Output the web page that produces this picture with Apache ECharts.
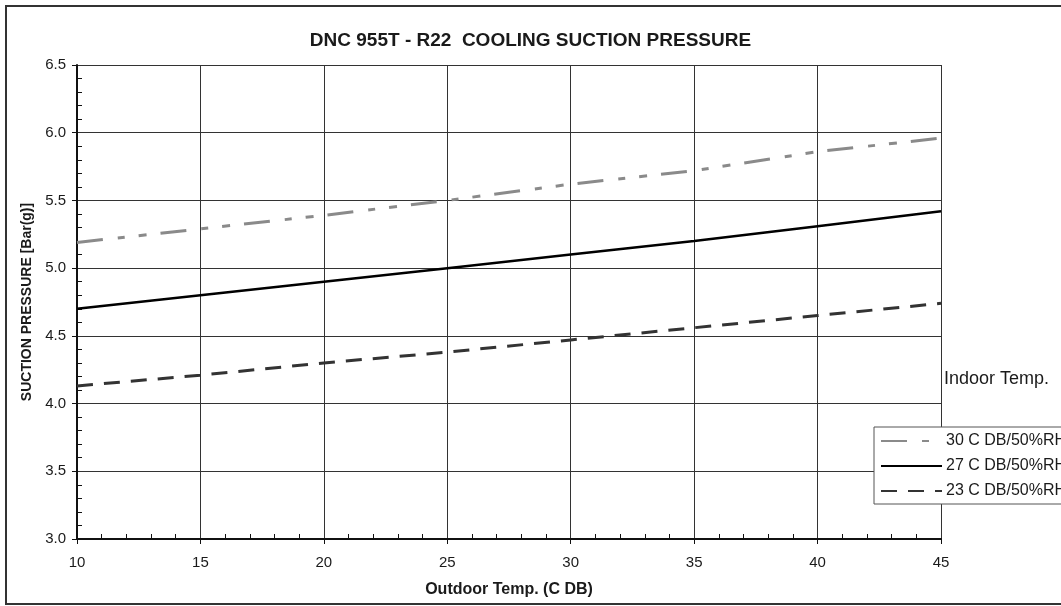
<!DOCTYPE html>
<html>
<head>
<meta charset="utf-8">
<script src="https://cdn.jsdelivr.net/npm/echarts@6/dist/echarts.min.js"></script>
<style>
  html, body { margin: 0; padding: 0; background: #fff; }
  #chart { width: 1061px; height: 606px; }
</style>
</head>
<body>
<div id="chart"></div>
<script>
// outdoor temp (C DB)
const outdoorTemps = [10, 15, 20, 25, 30, 35, 40, 45]
// suction pressure [Bar(g)] per indoor condition
const indoor30 = [5.19, 5.29, 5.39, 5.50, 5.62, 5.72, 5.86, 5.96]
const indoor27 = [4.70, 4.80, 4.90, 5.00, 5.10, 5.20, 5.31, 5.42]
const indoor23 = [4.13, 4.21, 4.30, 4.38, 4.47, 4.56, 4.65, 4.74]
const seriesNames = ['30 C DB/50%RH', '27 C DB/50%RH', '23 C DB/50%RH']

const FONT = '"Liberation Sans", Arial, sans-serif'
const TEXT = '#1a1a1a'
const X_MIN = 10
const X_MAX = 45
const Y_MIN = 3.0
const Y_MAX = 6.5

const toPairs = (ys) => outdoorTemps.map((x, i) => [x, ys[i]])

// second pair of axes only carries the inward minor ticks
const minorTickAxis = (extra) => ({
  type: 'value',
  ...extra,
  axisLine: { show: false },
  axisLabel: { show: false },
  splitLine: { show: false },
  axisTick: { show: false, inside: true },
  minorTick: { show: true, splitNumber: 5, length: 5, lineStyle: { color: '#111', width: 1 } },
})

const chart = echarts.init(document.getElementById('chart'))

chart.setOption({
  animation: false,
  backgroundColor: '#fff',
  textStyle: { fontFamily: FONT },
  title: {
    text: 'DNC 955T - R22  COOLING SUCTION PRESSURE',
    left: 'center',
    top: 26,
    textStyle: { fontFamily: FONT, fontSize: 19, fontWeight: 'bold', color: TEXT },
  },
  grid: { left: 77, right: 120, top: 65, bottom: 67 },
  legend: {
    orient: 'vertical',
    left: 874,
    top: 427,
    padding: [6, 30, 5, 6],
    itemWidth: 61,
    itemHeight: 14,
    itemGap: 9,
    backgroundColor: '#fff',
    borderColor: '#555',
    borderWidth: 1,
    borderRadius: 0,
    itemStyle: { opacity: 0 },
    data: seriesNames,
    textStyle: { fontFamily: FONT, fontSize: 16, color: TEXT, padding: [0, 0, 0, -1] },
  },
  xAxis: [
    {
      type: 'value',
      min: X_MIN,
      max: X_MAX,
      interval: 5,
      name: 'Outdoor Temp. (C DB)',
      nameLocation: 'middle',
      nameGap: 43,
      nameTextStyle: { fontFamily: FONT, fontSize: 16, fontWeight: 'bold', color: TEXT },
      axisLine: { show: true, onZero: false, lineStyle: { color: '#111', width: 2 } },
      axisTick: { show: true, length: 5, lineStyle: { color: '#111', width: 1 } },
      axisLabel: { fontFamily: FONT, fontSize: 15, color: TEXT, margin: 16 },
      splitLine: { show: true, lineStyle: { color: '#333', width: 1 } },
    },
    minorTickAxis({ position: 'bottom', min: X_MIN, max: X_MAX, interval: 5 }),
  ],
  yAxis: [
    {
      type: 'value',
      min: Y_MIN,
      max: Y_MAX,
      interval: 0.5,
      name: 'SUCTION PRESSURE [Bar(g)]',
      nameLocation: 'middle',
      nameGap: 37,
      nameTextStyle: { fontFamily: FONT, fontSize: 14, fontWeight: 'bold', color: TEXT },
      axisLine: { show: true, onZero: false, lineStyle: { color: '#111', width: 2 } },
      axisTick: { show: true, length: 5, lineStyle: { color: '#111', width: 1 } },
      axisLabel: {
        fontFamily: FONT,
        fontSize: 15,
        color: TEXT,
        margin: 11,
        formatter: (v) => v.toFixed(1),
      },
      splitLine: { show: true, lineStyle: { color: '#333', width: 1 } },
    },
    minorTickAxis({ position: 'left', min: Y_MIN, max: Y_MAX, interval: 0.5 }),
  ],
  graphic: [
    {
      type: 'rect',
      z: -1,
      silent: true,
      shape: { x: 6, y: 6, width: 1100, height: 598 },
      style: { fill: 'none', stroke: '#333', lineWidth: 2 },
    },
    {
      type: 'text',
      left: 944,
      top: 370,
      silent: true,
      style: { text: 'Indoor Temp.', font: '18px ' + FONT, fill: TEXT },
    },
  ],
  series: [
    {
      name: seriesNames[0],
      type: 'line',
      data: toPairs(indoor30),
      symbol: 'none',
      lineStyle: { color: '#8a8a8a', width: 3, type: [26, 15, 7, 14, 8, 14] },
      itemStyle: { color: '#8a8a8a' },
    },
    {
      name: seriesNames[1],
      type: 'line',
      data: toPairs(indoor27),
      symbol: 'none',
      lineStyle: { color: '#000', width: 2.5, type: 'solid' },
      itemStyle: { color: '#000' },
    },
    {
      name: seriesNames[2],
      type: 'line',
      data: toPairs(indoor23),
      symbol: 'none',
      lineStyle: { color: '#333', width: 3, type: [16, 11] },
      itemStyle: { color: '#333' },
    },
  ],
})
</script>
</body>
</html>
